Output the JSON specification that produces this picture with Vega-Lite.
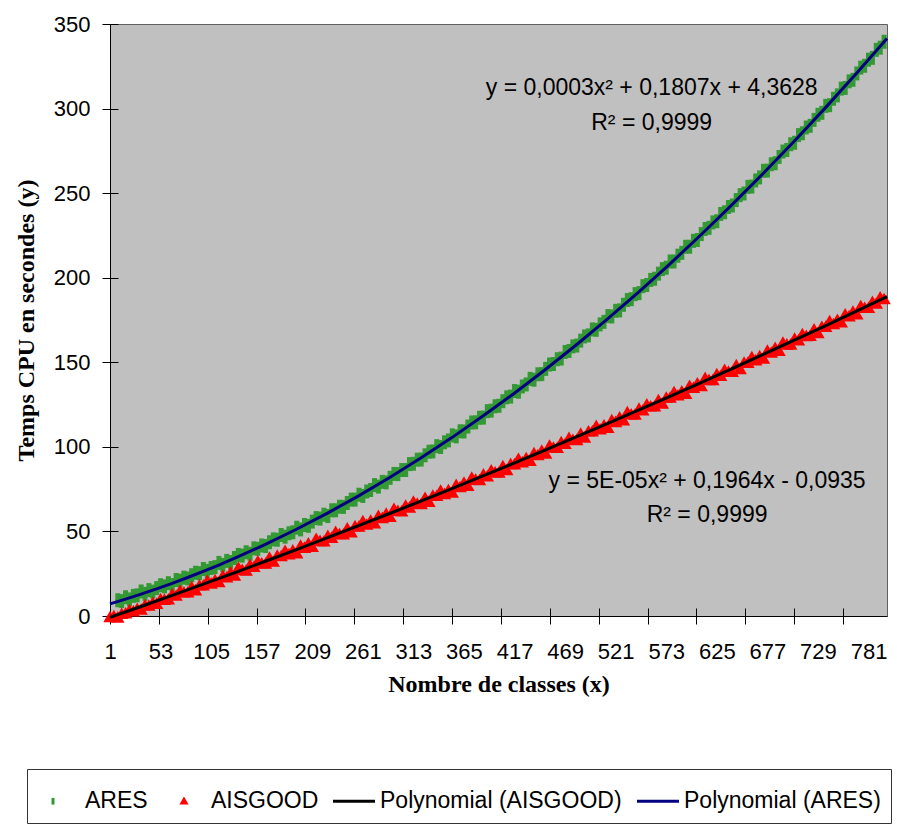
{
"$schema":"https://vega.github.io/schema/vega-lite/v6.json",
"width":777,"height":592,"autosize":"none",
"padding":{"left":110,"top":24,"right":10,"bottom":223},
"background":"white",
"config":{
 "view":{"fill":"#c0c0c0","stroke":"#606060","strokeWidth":1},
 "font":"Liberation Sans",
 "axis":{"grid":false,"labelFont":"Liberation Sans","labelFontSize":22,"labelColor":"#000","tickColor":"#000","domainColor":"#000","tickWidth":1,"domainWidth":1,"titleFont":"Liberation Serif","titleFontWeight":"bold","titleFontSize":24,"titleColor":"#000","labelFlush":false,"labelOverlap":false}
},
"datasets":{
"ares":[
{"x":9,"y":9.3},{"x":13,"y":8.8},{"x":17,"y":11.1},{"x":21,"y":9.8},{"x":25,"y":11.9},{"x":29,"y":12.2},{"x":33,"y":14.5},{"x":37,"y":13.1},{"x":41,"y":15.3},{"x":45,"y":14.4},
{"x":49,"y":16.5},{"x":53,"y":18.2},{"x":57,"y":17.5},{"x":61,"y":19.4},{"x":65,"y":18.3},{"x":69,"y":21.3},{"x":73,"y":20.9},{"x":77,"y":22.7},{"x":81,"y":22.2},{"x":85,"y":24.1},
{"x":89,"y":25.6},{"x":93,"y":25.3},{"x":97,"y":27.8},{"x":101,"y":26.7},{"x":105,"y":28.4},{"x":109,"y":28.9},{"x":113,"y":31.4},{"x":117,"y":30.2},{"x":121,"y":32.6},{"x":125,"y":31.9},
{"x":129,"y":34.3},{"x":133,"y":36.1},{"x":137,"y":35.7},{"x":141,"y":37.7},{"x":145,"y":36.8},{"x":149,"y":40.0},{"x":153,"y":39.7},{"x":157,"y":41.7},{"x":161,"y":41.4},{"x":165,"y":43.6},
{"x":169,"y":45.3},{"x":173,"y":45.1},{"x":177,"y":47.9},{"x":181,"y":46.9},{"x":185,"y":48.9},{"x":189,"y":49.5},{"x":193,"y":52.2},{"x":197,"y":51.2},{"x":201,"y":53.8},{"x":205,"y":53.3},
{"x":209,"y":55.8},{"x":213,"y":57.9},{"x":217,"y":57.6},{"x":221,"y":59.9},{"x":225,"y":59.1},{"x":229,"y":62.5},{"x":233,"y":62.5},{"x":237,"y":64.6},{"x":241,"y":64.5},{"x":245,"y":66.8},
{"x":249,"y":68.8},{"x":253,"y":68.8},{"x":257,"y":71.7},{"x":261,"y":71.0},{"x":265,"y":73.6},{"x":269,"y":74.5},{"x":273,"y":77.4},{"x":277,"y":76.5},{"x":281,"y":79.3},{"x":285,"y":79.0},
{"x":289,"y":81.7},{"x":293,"y":84.0},{"x":297,"y":83.9},{"x":301,"y":86.3},{"x":305,"y":86.3},{"x":309,"y":89.8},{"x":313,"y":90.0},{"x":317,"y":92.4},{"x":321,"y":92.5},{"x":325,"y":95.0},
{"x":329,"y":97.1},{"x":333,"y":97.3},{"x":337,"y":100.4},{"x":341,"y":99.9},{"x":345,"y":102.7},{"x":349,"y":103.8},{"x":353,"y":106.8},{"x":357,"y":106.2},{"x":361,"y":109.2},{"x":365,"y":109.1},
{"x":369,"y":112.0},{"x":373,"y":114.4},{"x":377,"y":114.5},{"x":381,"y":117.2},{"x":385,"y":117.3},{"x":389,"y":121.1},{"x":393,"y":121.4},{"x":397,"y":124.0},{"x":401,"y":124.3},{"x":405,"y":127.0},
{"x":409,"y":129.3},{"x":413,"y":129.7},{"x":417,"y":133.0},{"x":421,"y":132.6},{"x":425,"y":135.7},{"x":429,"y":136.9},{"x":433,"y":140.2},{"x":437,"y":139.7},{"x":441,"y":142.9},{"x":445,"y":143.0},
{"x":449,"y":146.1},{"x":453,"y":148.7},{"x":457,"y":149.0},{"x":461,"y":151.8},{"x":465,"y":152.2},{"x":469,"y":156.1},{"x":473,"y":156.7},{"x":477,"y":159.4},{"x":481,"y":159.9},{"x":485,"y":162.8},
{"x":489,"y":165.3},{"x":493,"y":165.9},{"x":497,"y":169.4},{"x":501,"y":169.2},{"x":505,"y":172.4},{"x":509,"y":173.9},{"x":513,"y":177.3},{"x":517,"y":177.1},{"x":521,"y":180.4},{"x":525,"y":180.7},
{"x":529,"y":184.0},{"x":533,"y":186.8},{"x":537,"y":187.3},{"x":541,"y":190.3},{"x":545,"y":190.9},{"x":549,"y":195.0},{"x":553,"y":195.7},{"x":557,"y":198.7},{"x":561,"y":199.4},{"x":565,"y":202.4},
{"x":569,"y":205.1},{"x":573,"y":205.9},{"x":577,"y":209.6},{"x":581,"y":209.6},{"x":585,"y":213.0},{"x":589,"y":214.7},{"x":593,"y":218.3},{"x":597,"y":218.3},{"x":601,"y":221.8},{"x":605,"y":222.3},
{"x":609,"y":225.8},{"x":613,"y":228.8},{"x":617,"y":229.5},{"x":621,"y":232.7},{"x":625,"y":233.4},{"x":629,"y":237.7},{"x":633,"y":238.7},{"x":637,"y":241.8},{"x":641,"y":242.7},{"x":645,"y":245.9},
{"x":649,"y":248.8},{"x":653,"y":249.8},{"x":657,"y":253.7},{"x":661,"y":253.9},{"x":665,"y":257.5},{"x":669,"y":259.3},{"x":673,"y":263.2},{"x":677,"y":263.3},{"x":681,"y":267.1},{"x":685,"y":267.7},
{"x":689,"y":271.4},{"x":693,"y":274.6},{"x":697,"y":275.5},{"x":701,"y":278.9},{"x":705,"y":279.8},{"x":709,"y":284.3},{"x":713,"y":285.4},{"x":717,"y":288.8},{"x":721,"y":289.8},{"x":725,"y":293.3},
{"x":729,"y":296.3},{"x":733,"y":297.5},{"x":737,"y":301.6},{"x":741,"y":302.0},{"x":745,"y":305.8},{"x":749,"y":307.8},{"x":753,"y":311.8},{"x":757,"y":312.2},{"x":761,"y":316.1},{"x":765,"y":317.0},
{"x":769,"y":320.8},{"x":773,"y":324.2},{"x":777,"y":325.3},{"x":781,"y":328.9},{"x":785,"y":330.0},{"x":789,"y":334.7},{"x":793,"y":336.0},{"x":797,"y":339.5}
],
"ais":[
{"x":1,"y":-0.3},{"x":5,"y":0.3},{"x":9,"y":-0.5},{"x":13,"y":1.6},{"x":17,"y":1.9},{"x":21,"y":3.8},{"x":25,"y":3.1},{"x":29,"y":4.6},{"x":33,"y":4.1},{"x":37,"y":6.7},
{"x":41,"y":6.5},{"x":45,"y":8.1},{"x":49,"y":7.6},{"x":53,"y":10.3},{"x":57,"y":10.0},{"x":61,"y":10.2},{"x":65,"y":13.2},{"x":69,"y":12.4},{"x":73,"y":15.2},{"x":77,"y":14.3},
{"x":81,"y":14.3},{"x":85,"y":17.4},{"x":89,"y":15.6},{"x":93,"y":18.5},{"x":97,"y":18.5},{"x":101,"y":21.1},{"x":105,"y":19.6},{"x":109,"y":21.6},{"x":113,"y":20.4},{"x":117,"y":24.1},
{"x":121,"y":23.2},{"x":125,"y":26.1},{"x":129,"y":24.3},{"x":133,"y":28.9},{"x":137,"y":27.6},{"x":141,"y":27.3},{"x":145,"y":30.5},{"x":149,"y":29.4},{"x":153,"y":32.7},{"x":157,"y":31.5},
{"x":161,"y":31.3},{"x":165,"y":34.9},{"x":169,"y":32.5},{"x":173,"y":36.0},{"x":177,"y":35.8},{"x":181,"y":38.9},{"x":185,"y":36.9},{"x":189,"y":39.1},{"x":193,"y":37.5},{"x":197,"y":41.9},
{"x":201,"y":40.7},{"x":205,"y":43.2},{"x":209,"y":41.3},{"x":213,"y":46.0},{"x":217,"y":44.7},{"x":221,"y":44.5},{"x":225,"y":47.7},{"x":229,"y":46.6},{"x":233,"y":50.0},{"x":237,"y":48.8},
{"x":241,"y":48.6},{"x":245,"y":52.2},{"x":249,"y":49.9},{"x":253,"y":53.4},{"x":257,"y":53.3},{"x":261,"y":56.4},{"x":265,"y":54.4},{"x":269,"y":56.7},{"x":273,"y":55.1},{"x":277,"y":59.6},
{"x":281,"y":58.3},{"x":285,"y":60.8},{"x":289,"y":59.0},{"x":293,"y":63.7},{"x":297,"y":62.5},{"x":301,"y":62.3},{"x":305,"y":65.6},{"x":309,"y":64.5},{"x":313,"y":67.9},{"x":317,"y":66.7},
{"x":321,"y":66.6},{"x":325,"y":70.2},{"x":329,"y":67.9},{"x":333,"y":71.5},{"x":337,"y":71.4},{"x":341,"y":74.5},{"x":345,"y":72.5},{"x":349,"y":74.8},{"x":353,"y":73.3},{"x":357,"y":77.8},
{"x":361,"y":76.6},{"x":365,"y":79.2},{"x":369,"y":77.4},{"x":373,"y":82.1},{"x":377,"y":80.9},{"x":381,"y":80.7},{"x":385,"y":84.0},{"x":389,"y":83.0},{"x":393,"y":86.4},{"x":397,"y":85.3},
{"x":401,"y":85.2},{"x":405,"y":88.9},{"x":409,"y":86.6},{"x":413,"y":90.2},{"x":417,"y":90.1},{"x":421,"y":93.3},{"x":425,"y":91.3},{"x":429,"y":93.7},{"x":433,"y":92.1},{"x":437,"y":96.7},
{"x":441,"y":95.5},{"x":445,"y":98.1},{"x":449,"y":96.4},{"x":453,"y":101.1},{"x":457,"y":99.9},{"x":461,"y":99.8},{"x":465,"y":103.1},{"x":469,"y":102.1},{"x":473,"y":105.6},{"x":477,"y":104.5},
{"x":481,"y":104.4},{"x":485,"y":108.1},{"x":489,"y":105.9},{"x":493,"y":109.5},{"x":497,"y":109.5},{"x":501,"y":112.7},{"x":505,"y":110.7},{"x":509,"y":113.1},{"x":513,"y":111.6},{"x":517,"y":116.2},
{"x":521,"y":115.1},{"x":525,"y":117.7},{"x":529,"y":116.0},{"x":533,"y":120.8},{"x":537,"y":119.6},{"x":541,"y":119.5},{"x":545,"y":122.9},{"x":549,"y":121.9},{"x":553,"y":125.4},{"x":557,"y":124.3},
{"x":561,"y":124.3},{"x":565,"y":128.0},{"x":569,"y":125.9},{"x":573,"y":129.5},{"x":577,"y":129.5},{"x":581,"y":132.7},{"x":585,"y":130.8},{"x":589,"y":133.2},{"x":593,"y":131.8},{"x":597,"y":136.4},
{"x":601,"y":135.3},{"x":605,"y":137.9},{"x":609,"y":136.3},{"x":613,"y":141.1},{"x":617,"y":139.9},{"x":621,"y":139.9},{"x":625,"y":143.3},{"x":629,"y":142.3},{"x":633,"y":145.9},{"x":637,"y":144.8},
{"x":641,"y":144.8},{"x":645,"y":148.6},{"x":649,"y":146.4},{"x":653,"y":150.1},{"x":657,"y":150.1},{"x":661,"y":153.4},{"x":665,"y":151.5},{"x":669,"y":154.0},{"x":673,"y":152.5},{"x":677,"y":157.2},
{"x":681,"y":156.1},{"x":685,"y":158.8},{"x":689,"y":157.2},{"x":693,"y":162.0},{"x":697,"y":160.9},{"x":701,"y":160.9},{"x":705,"y":164.3},{"x":709,"y":163.4},{"x":713,"y":167.0},{"x":717,"y":165.9},
{"x":721,"y":166.0},{"x":725,"y":169.8},{"x":729,"y":167.7},{"x":733,"y":171.3},{"x":737,"y":171.4},{"x":741,"y":174.7},{"x":745,"y":172.9},{"x":749,"y":175.4},{"x":753,"y":174.0},{"x":757,"y":178.6},
{"x":761,"y":177.6},{"x":765,"y":180.3},{"x":769,"y":178.7},{"x":773,"y":183.6},{"x":777,"y":182.5},{"x":781,"y":182.5},{"x":785,"y":186.0},{"x":789,"y":185.1},{"x":793,"y":188.7},{"x":797,"y":187.7}
],
"notes":[
{"x":558,"y":312.2,"t":"y = 0,0003x² + 0,1807x + 4,3628"},
{"x":558,"y":291.5,"t":"R² = 0,9999"},
{"x":615,"y":79.8,"t":"y = 5E-05x² + 0,1964x - 0,0935"},
{"x":615,"y":59.7,"t":"R² = 0,9999"}
]
},
"layer":[
{"data":{"name":"ares"},
 "mark":{"type":"point","filled":true,"opacity":1,"shape":"M-0.36,-1L0.36,-1L0.36,1L-0.36,1Z","size":196,"strokeWidth":0},
 "encoding":{
  "x":{"field":"x","type":"quantitative","scale":{"domain":[1,800],"nice":false,"zero":false},
       "axis":{"orient":"bottom","values":[1,53,105,157,209,261,313,365,417,469,521,573,625,677,729,781],"ticks":false,"domain":true,"labelPadding":25,"title":"Nombre de classes (x)","titlePadding":10}},
  "y":{"field":"y","type":"quantitative","scale":{"domain":[0,350],"nice":false,"zero":false},
       "axis":{"orient":"left","values":[0,50,100,150,200,250,300,350],"ticks":false,"domain":true,"labelPadding":20,"title":"Temps CPU en secondes (y)","titlePadding":15}},
  "color":{"datum":"ARES","type":"nominal",
    "scale":{"domain":["ARES","AISGOOD","Polynomial (AISGOOD)","Polynomial (ARES)"],"range":["#339933","#ff0000","#000000","#000080"]},
    "legend":{"orient":"none","legendX":-83,"legendY":745,"direction":"horizontal","title":null,"padding":9.5,
      "strokeColor":"#333333","fillColor":"#ffffff","labelFont":"Liberation Sans","labelFontSize":23,"labelColor":"#000000","labelLimit":0,
      "labelOffset":3.5,"columnPadding":8,"symbolSize":1764,"symbolStrokeWidth":3,"symbolOpacity":1,
      "encode":{"symbols":{"update":{
        "shape":{"signal":"datum.value==='ARES' ? 'M-1.07,0M-0.286,-0.16L-0.286,0.16' : datum.value==='AISGOOD' ? 'M-1.07,0M-0.048,-0.083L-0.143,0.083L0.047,0.083Z' : 'stroke'"},
        "fill":{"signal":"scale('color', datum.value)"},
        "stroke":{"signal":"scale('color', datum.value)"},
        "size":{"value":1764},
        "strokeWidth":{"value":3},
        "opacity":{"value":1}
      }}}}}
 }},
{"data":{"name":"ais"},
 "mark":{"type":"point","filled":true,"opacity":1,"shape":"triangle-up","size":180,"strokeWidth":0},
 "encoding":{
  "x":{"field":"x","type":"quantitative","axis":{"orient":"bottom","values":[1,51.25,101.5,151.75,202,252.25,302.5,352.75,403,453.25,503.5,553.75,604,654.25,704.5,754.75],"labels":false,"domain":false,"ticks":true,"tickSize":16,"offset":-8,"title":null}},
  "y":{"field":"y","type":"quantitative","axis":{"orient":"left","values":[0,50,100,150,200,250,300,350],"labels":false,"domain":false,"ticks":true,"tickSize":16,"offset":-8,"title":null}},
  "color":{"datum":"AISGOOD","type":"nominal"}
 }},
{"data":{"name":"ais"},
 "transform":[{"regression":"y","on":"x","method":"poly","order":2,"extent":[1,800]}],
 "mark":{"type":"line","strokeWidth":3},
 "encoding":{
  "x":{"field":"x","type":"quantitative","axis":null},
  "y":{"field":"y","type":"quantitative","axis":null},
  "color":{"datum":"Polynomial (AISGOOD)","type":"nominal"}
 }},
{"data":{"name":"ares"},
 "transform":[{"regression":"y","on":"x","method":"poly","order":2,"extent":[1,800]}],
 "mark":{"type":"line","strokeWidth":3},
 "encoding":{
  "x":{"field":"x","type":"quantitative","axis":null},
  "y":{"field":"y","type":"quantitative","axis":null},
  "color":{"datum":"Polynomial (ARES)","type":"nominal"}
 }},
{"data":{"name":"notes"},
 "mark":{"type":"text","font":"Liberation Sans","fontSize":23,"align":"center","baseline":"middle","color":"#000000"},
 "encoding":{
  "x":{"field":"x","type":"quantitative","axis":null},
  "y":{"field":"y","type":"quantitative","axis":null},
  "text":{"field":"t"}
 }}
],
"resolve":{"axis":{"x":"independent","y":"independent"}}
}
